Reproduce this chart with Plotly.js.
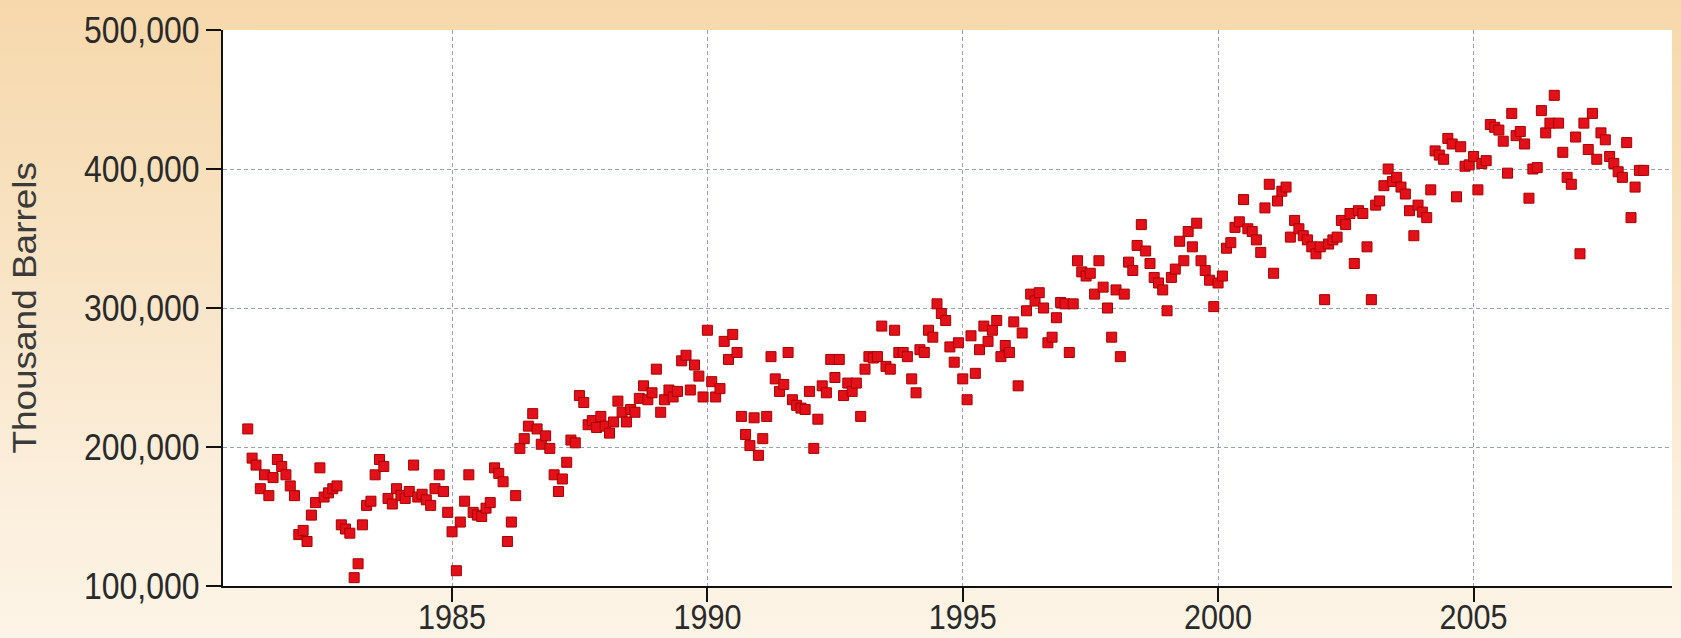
<!DOCTYPE html>
<html>
<head>
<meta charset="utf-8">
<script src="https://cdn.plot.ly/plotly-3.0.1.min.js"></script>
<style>
  html, body { margin: 0; padding: 0; }
  body { width: 1681px; height: 638px; overflow: hidden;
    background: linear-gradient(to bottom, #f6d8ab 0%, #f8e3c3 40%, #fbeedb 75%, #fcf4e6 100%); }
  #chart { width: 1681px; height: 638px; }
</style>
</head>
<body>
<div id="chart"></div>
<script>
// Monthly values (thousand barrels), January 1981 onward
const startYear = 1981;
const v1981 = [213000,192000,187000,170000,180000,165000,178000,191000,186000,180000,172000,165000];
const v1982 = [137000,140000,132000,151000,160000,185000,164000,167000,170000,172000,144000,141000];
const v1983 = [138000,106000,116000,144000,158000,161000,180000,191000,186000,163000,159000,170000];
const v1984 = [165000,163000,168000,187000,164000,166000,162000,158000,170000,180000,168000,153000];
const v1985 = [139000,111000,146000,161000,180000,153000,151000,150000,156000,160000,185000,181000];
const v1986 = [175000,132000,146000,165000,199000,206000,215000,224000,213000,202000,208000,199000];
const v1987 = [180000,168000,177000,189000,205000,203000,237000,232000,216000,219000,214000,222000];
const v1988 = [215000,210000,218000,233000,225000,218000,227000,225000,235000,244000,234000,239000];
const v1989 = [256000,225000,234000,241000,236000,240000,262000,266000,241000,259000,251000,236000];
const v1990 = [284000,247000,236000,242000,276000,263000,281000,268000,222000,209000,201000,221000];
const v1991 = [194000,206000,222000,265000,249000,240000,245000,268000,234000,230000,228000,227000];
const v1992 = [240000,199000,220000,244000,239000,263000,250000,263000,237000,246000,240000,246000];
const v1993 = [222000,256000,265000,264000,265000,287000,258000,256000,284000,268000,268000,265000];
const v1994 = [249000,239000,270000,268000,284000,279000,303000,296000,291000,272000,261000,275000];
const v1995 = [249000,234000,280000,253000,270000,287000,276000,284000,291000,265000,273000,268000];
const v1996 = [290000,244000,282000,298000,310000,305000,311000,300000,275000,279000,293000,304000];
const v1997 = [303000,268000,303000,334000,326000,323000,325000,310000,334000,315000,300000,279000];
const v1998 = [313000,265000,310000,333000,327000,345000,360000,341000,332000,322000,318000,313000];
const v1999 = [298000,322000,328000,348000,334000,355000,344000,361000,334000,327000,320000,301000];
const v2000 = [318000,323000,343000,347000,358000,362000,378000,357000,355000,349000,340000,372000];
const v2001 = [389000,325000,377000,384000,387000,351000,363000,357000,352000,349000,344000,339000];
const v2002 = [344000,306000,346000,349000,351000,363000,360000,368000,332000,370000,368000,344000];
const v2003 = [306000,374000,377000,388000,400000,391000,394000,387000,382000,370000,352000,374000];
const v2004 = [369000,365000,385000,413000,410000,407000,422000,418000,380000,416000,402000,403000];
const v2005 = [409000,385000,404000,406000,432000,430000,428000,420000,397000,440000,424000,427000];
const v2006 = [418000,379000,400000,401000,442000,426000,433000,453000,433000,412000,394000,389000];
const v2007 = [423000,339000,433000,414000,440000,407000,426000,421000,409000,404000,398000,394000];
const v2008 = [419000,365000,387000,399000,399000];

const yTickVals = [100000, 200000, 300000, 400000, 500000];
const xTickVals = ['1985-01-01', '1990-01-01', '1995-01-01', '2000-01-01', '2005-01-01'];
const xTickText = ['1985', '1990', '1995', '2000', '2005'];
const yTitle = 'Thousand Barrels';

const values = [].concat(v1981, v1982, v1983, v1984, v1985, v1986, v1987, v1988, v1989, v1990,
  v1991, v1992, v1993, v1994, v1995, v1996, v1997, v1998, v1999, v2000,
  v2001, v2002, v2003, v2004, v2005, v2006, v2007, v2008);

const dates = values.map((_, i) => {
  const y = startYear + Math.floor(i / 12);
  const m = (i % 12) + 1;
  return y + '-' + (m < 10 ? '0' + m : m) + '-01';
});

const xTickFont = { family: '"Liberation Sans", Arial, sans-serif', size: 30, color: '#2a2a2a' };
const yTickFont = { family: '"Liberation Sans", Arial, sans-serif', size: 32, color: '#2a2a2a' };

const trace = {
  type: 'scatter',
  mode: 'markers',
  x: dates,
  y: values,
  marker: { symbol: 'square', size: 10, color: '#e3101a', line: { color: '#a80000', width: 1 } },
  hoverinfo: 'x+y'
};

const layout = {
  width: 1681, height: 638,
  margin: { l: 223, r: 9, t: 30, b: 52, pad: 0 },
  paper_bgcolor: 'rgba(0,0,0,0)',
  plot_bgcolor: '#ffffff',
  showlegend: false,
  xaxis: {
    type: 'date',
    range: ['1980-07-08', '2008-11-20'],
    tickvals: xTickVals,
    ticktext: xTickText,
    ticks: 'outside', ticklen: 14, tickwidth: 2, tickcolor: '#111',
    ticklabelstandoff: -11,
    showline: true, linecolor: '#111', linewidth: 2,
    showgrid: true, gridcolor: '#9aa1aa', gridwidth: 1, griddash: '4px,3px',
    zeroline: false,
    tickfont: xTickFont
  },
  yaxis: {
    range: [100000, 500000],
    tickvals: yTickVals,
    tickformat: ',d',
    ticks: 'outside', ticklen: 15, tickwidth: 2, tickcolor: '#111',
    showline: true, linecolor: '#111', linewidth: 2,
    showgrid: true, gridcolor: '#9aa1aa', gridwidth: 1, griddash: '4px,3px',
    zeroline: false,
    tickfont: yTickFont
  },
  annotations: [{
    text: yTitle,
    xref: 'paper', yref: 'paper',
    x: -0.1373, y: 0.5,
    xanchor: 'center', yanchor: 'middle',
    textangle: -90, showarrow: false,
    font: { family: '"Liberation Sans", Arial, sans-serif', size: 33, color: '#3a3a3a' }
  }]
};

function stretch(nodes, sx, sy) {
  nodes.forEach(n => {
    const b = n.getBBox();
    const cx = b.x + b.width / 2, cy = b.y + b.height / 2;
    const prev = n.getAttribute('transform') || '';
    n.setAttribute('transform', prev + ' translate(' + cx + ',' + cy + ') scale(' + sx + ',' + sy + ') translate(' + (-cx) + ',' + (-cy) + ')');
  });
}

Plotly.newPlot('chart', [trace], layout, { staticPlot: true, displayModeBar: false }).then(gd => {
  stretch(Array.from(gd.querySelectorAll('.xtick text')), 1.02, 1.15);
  stretch(Array.from(gd.querySelectorAll('.ytick text')), 1, 1.18);
  stretch(Array.from(gd.querySelectorAll('.annotation-text')), 1.12, 1);
});
</script>
</body>
</html>
